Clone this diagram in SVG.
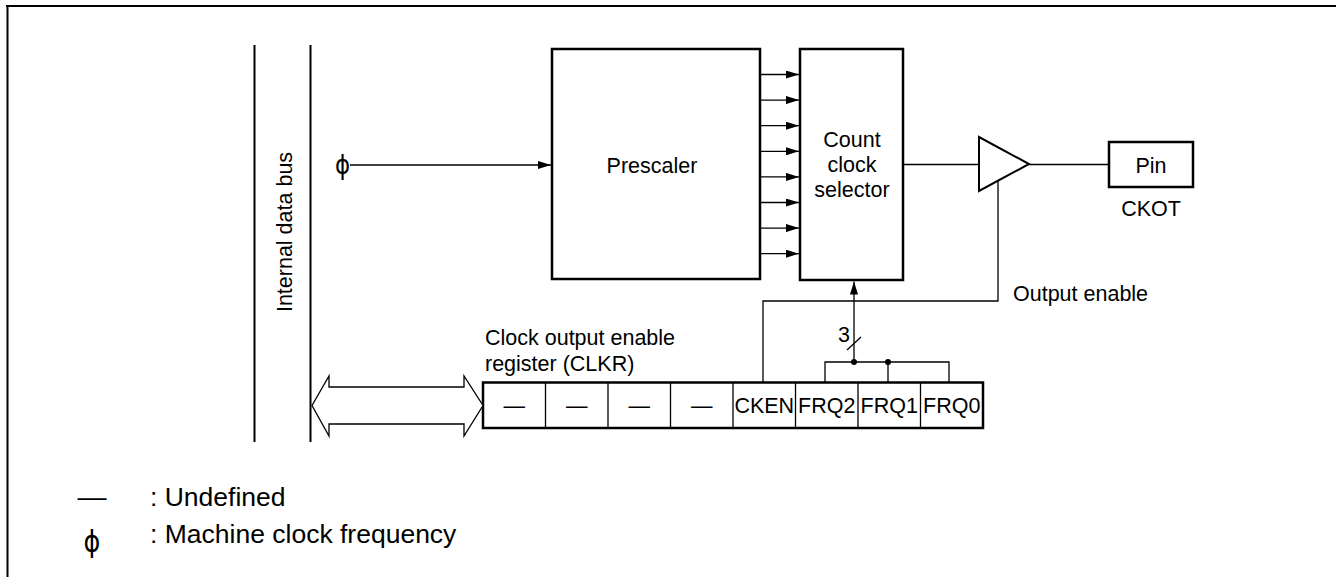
<svg xmlns="http://www.w3.org/2000/svg" width="1336" height="577" viewBox="0 0 1336 577">
<defs>
<style>
.t{font-family:"Liberation Sans",Arial,sans-serif;font-size:21.5px;fill:#000}
.lg{font-family:"Liberation Sans",Arial,sans-serif;font-size:26.5px;fill:#000}
.phi{font-family:"DejaVu Sans","Liberation Sans",sans-serif;fill:#000}
.box{fill:#fff;stroke:#000;stroke-width:2.5}
.ln{fill:none;stroke:#000;stroke-width:1.3}
.thick{fill:none;stroke:#000;stroke-width:2}
</style>
<marker id="ah" markerUnits="userSpaceOnUse" markerWidth="13" markerHeight="8" refX="13" refY="4" orient="auto">
<path d="M0,0 L13,4 L0,8 z" fill="#000"/>
</marker>
</defs>
<rect width="1336" height="577" fill="#fff"/>
<g id="frame">
<line x1="6" y1="6" x2="1336" y2="6" class="thick" stroke-width="2.5"/>
<line x1="7.5" y1="5" x2="7.5" y2="577" class="thick"/>
</g>
<g id="bus">
<line x1="254.5" y1="45" x2="254.5" y2="442" class="thick"/>
<line x1="310.5" y1="45" x2="310.5" y2="442" class="thick"/>
<text class="t" transform="translate(292,232) rotate(-90)" text-anchor="middle">Internal data bus</text>
</g>
<g id="phi-in">
<text class="phi" transform="translate(342.5,173.5) scale(0.85,1)" font-size="27" text-anchor="middle">ϕ</text>
</g>
<g id="prescaler">
<rect x="552" y="49" width="208" height="230" class="box"/>
<text class="t" x="652" y="172.5" text-anchor="middle">Prescaler</text>
</g>
<g id="selector">
<rect x="800" y="49" width="103" height="231" class="box"/>
<text class="t" x="852" y="146.5" text-anchor="middle">Count</text>
<text class="t" x="852" y="171.5" text-anchor="middle">clock</text>
<text class="t" x="852" y="196.5" text-anchor="middle">selector</text>
</g>
<g id="buffer">
<polygon points="979,137 1029,164 979,191" fill="#fff" stroke="#000" stroke-width="2"/>
</g>
<g id="pin">
<rect x="1109" y="142" width="84" height="45" class="box" stroke-width="2"/>
<text class="t" x="1151" y="172.5" text-anchor="middle">Pin</text>
<text class="t" x="1151" y="216" text-anchor="middle">CKOT</text>
</g>
<g id="register">
<text class="t" x="485" y="345">Clock output enable</text>
<text class="t" x="485" y="371">register (CLKR)</text>
<rect x="483" y="382.5" width="500" height="45.5" fill="#fff" stroke="#000" stroke-width="2.5"/>
<g class="ln" stroke-width="1.2">
<line x1="545.5" y1="382.5" x2="545.5" y2="428"/>
<line x1="608" y1="382.5" x2="608" y2="428"/>
<line x1="670.5" y1="382.5" x2="670.5" y2="428"/>
<line x1="733" y1="382.5" x2="733" y2="428"/>
<line x1="795.5" y1="382.5" x2="795.5" y2="428"/>
<line x1="858" y1="382.5" x2="858" y2="428"/>
<line x1="920.5" y1="382.5" x2="920.5" y2="428"/>
</g>
<text class="t" x="514.25" y="413" text-anchor="middle">—</text>
<text class="t" x="576.75" y="413" text-anchor="middle">—</text>
<text class="t" x="639.25" y="413" text-anchor="middle">—</text>
<text class="t" x="701.75" y="413" text-anchor="middle">—</text>
<text class="t" x="764.25" y="413" text-anchor="middle">CKEN</text>
<text class="t" x="826.75" y="413" text-anchor="middle">FRQ2</text>
<text class="t" x="889.25" y="413" text-anchor="middle">FRQ1</text>
<text class="t" x="951.75" y="413" text-anchor="middle">FRQ0</text>
</g>
<g id="connectors">
<line x1="350" y1="165" x2="551" y2="165" class="ln" marker-end="url(#ah)"/>
<line x1="761" y1="74.5" x2="799" y2="74.5" class="ln" marker-end="url(#ah)"/>
<line x1="761" y1="100.1" x2="799" y2="100.1" class="ln" marker-end="url(#ah)"/>
<line x1="761" y1="125.7" x2="799" y2="125.7" class="ln" marker-end="url(#ah)"/>
<line x1="761" y1="151.3" x2="799" y2="151.3" class="ln" marker-end="url(#ah)"/>
<line x1="761" y1="176.9" x2="799" y2="176.9" class="ln" marker-end="url(#ah)"/>
<line x1="761" y1="202.5" x2="799" y2="202.5" class="ln" marker-end="url(#ah)"/>
<line x1="761" y1="228.1" x2="799" y2="228.1" class="ln" marker-end="url(#ah)"/>
<line x1="761" y1="253.7" x2="799" y2="253.7" class="ln" marker-end="url(#ah)"/>
<line x1="903" y1="164.5" x2="979" y2="164.5" class="ln"/>
<line x1="1029" y1="164.5" x2="1109" y2="164.5" class="ln"/>
<polyline points="998,181 998,301 763,301 763,382" class="ln"/>
<text class="t" x="1013" y="301">Output enable</text>
<line x1="854" y1="362" x2="854" y2="281.5" class="ln" marker-end="url(#ah)"/>
<line x1="847" y1="350" x2="861" y2="337" class="ln"/>
<text class="t" x="844" y="342" text-anchor="middle">3</text>
<polyline points="825,382 825,362 949,362 949,382" class="ln"/>
<line x1="888" y1="362" x2="888" y2="382" class="ln"/>
<circle cx="854" cy="362" r="3" fill="#000"/>
<circle cx="888" cy="362" r="3" fill="#000"/>
<polygon points="312,405.5 329,376 329,387 464,387 464,376 483,405.5 464,436 464,424 329,424 329,436" fill="#fff" stroke="#000" stroke-width="1.3"/>
</g>
<g id="legend">
<text class="lg" x="92" y="506" text-anchor="middle" textLength="29" lengthAdjust="spacingAndGlyphs">—</text>
<text class="lg" x="150" y="506">: Undefined</text>
<text class="phi" transform="translate(92,552) scale(0.85,1)" font-size="30" text-anchor="middle">ϕ</text>
<text class="lg" x="150" y="542.5">: Machine clock frequency</text>
</g>
</svg>
